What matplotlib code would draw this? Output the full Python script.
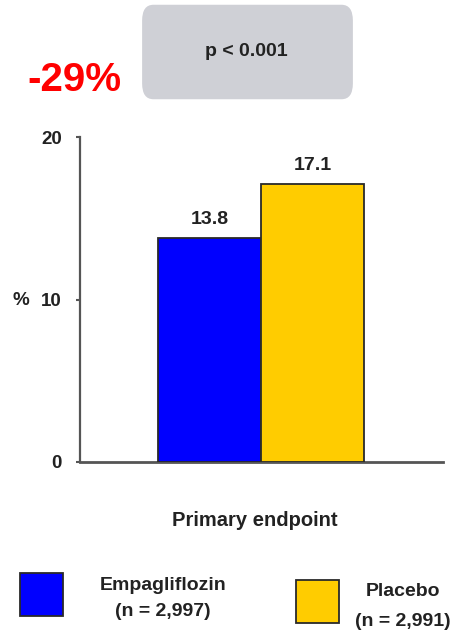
import matplotlib
matplotlib.use("Agg")
import matplotlib.pyplot as plt
from matplotlib.patches import FancyBboxPatch, Rectangle

# event rates for the primary endpoint
groups = ["Empagliflozin", "Placebo"]
counts = ["(n = 2,997)", "(n = 2,991)"]
rates = [13.8, 17.1]
colors = ["#0000ff", "#ffcc00"]
yticks = [0, 10, 20]

W, H = 453, 634
plt.rcParams["font.family"] = ["Liberation Sans", "DejaVu Sans"]
txt = "#222222"

fig = plt.figure(figsize=(W / 100, H / 100), dpi=100)
fig.patch.set_facecolor("white")

def fx(px):
    return px / W

def fy(py):
    return 1 - py / H

ax = fig.add_axes([fx(80), fy(462), fx(443) - fx(80), fy(137) - fy(462)])
x = [0, 1]
bars = ax.bar(x, rates, width=1.0, color=colors, edgecolor="#2a2a2a", linewidth=1.3, zorder=3)
ax.bar_label(bars, fmt="%.1f", padding=7, fontsize=14, fontweight="bold", color=txt)

ax.set_xlim(-1.257, 2.267)
ax.set_ylim(0, 20)
ax.set_yticks(yticks)
ax.set_yticklabels([str(t) for t in yticks], fontsize=13.5, fontweight="bold", color=txt)
ax.set_xticks([])
for s in ["top", "right"]:
    ax.spines[s].set_visible(False)
ax.spines["left"].set_color("#555555")
ax.spines["left"].set_linewidth(1.6)
ax.spines["bottom"].set_color("#555555")
ax.spines["bottom"].set_linewidth(2.0)
ax.tick_params(axis="y", length=3, width=1.5, color="#555555", pad=10)

fig.text(fx(21), fy(301), "%", fontsize=13.5, fontweight="bold", color=txt, ha="center", va="center")
fig.text(fx(255), fy(520), "Primary endpoint", fontsize=14.5, fontweight="bold", color=txt,
         ha="center", va="center")

# p-value box
box = FancyBboxPatch((fx(148), fy(91)), fx(353) - fx(148) - fx(6), fy(13) - fy(91),
                     boxstyle="round,pad=0.013,rounding_size=0.025", transform=fig.transFigure,
                     facecolor="#cfd0d6", edgecolor="none")
fig.patches.append(box)
fig.text(fx(246), fy(51), "p < 0.001", fontsize=14, fontweight="bold", color=txt,
         ha="center", va="center")
fig.text(fx(74), fy(80), "-29%", fontsize=29, fontweight="bold", color="#ff0000",
         ha="center", va="center")

# legend
keys = [(20, 573), (296, 580)]
labx = [163, 403]
laby = [(585, 612), (592, 622)]
for i in range(2):
    kx, ky = keys[i]
    fig.patches.append(Rectangle((fx(kx), fy(ky + 43)), fx(43), 43 / H, transform=fig.transFigure,
                                 facecolor=colors[i], edgecolor="#2a2a2a", linewidth=1.3))
    fig.text(fx(labx[i]), fy(laby[i][0]), groups[i], fontsize=14, fontweight="bold", color=txt,
             ha="center", va="center")
    fig.text(fx(labx[i]), fy(laby[i][1]), counts[i], fontsize=14, fontweight="bold", color=txt,
             ha="center", va="center")

fig.savefig("out.png", dpi=100)
